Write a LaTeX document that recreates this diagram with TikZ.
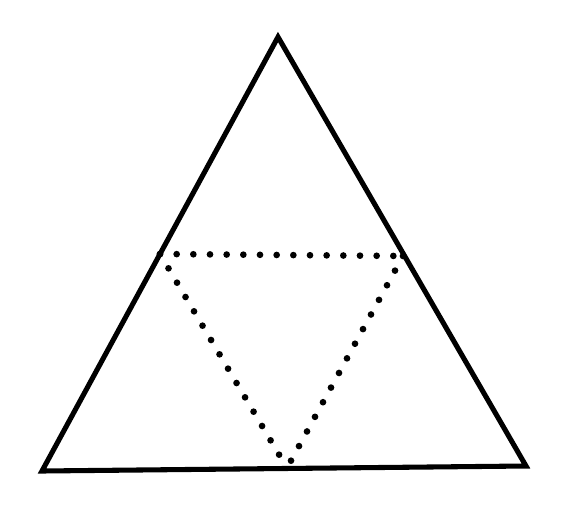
\documentclass[tikz,border=0pt]{standalone}
\begin{document}
\begin{tikzpicture}[x=0.75pt,y=-0.75pt,
  outer/.style={line width=3.8pt,line join=miter,black},
  dotline/.style={line width=5pt,line cap=round,dash pattern=on 0pt off 12.5pt,black}]
\useasboundingbox (0,0) rectangle (573,528);
\coordinate (A) at (278,37);
\coordinate (B) at (42,471);
\coordinate (C) at (526,466);
\coordinate (L) at (160,254);
\coordinate (R) at (403,256);
\coordinate (M) at (287,468);
\draw[outer] (A) -- (B) -- (C) -- cycle;
\draw[dotline] (L) -- (R);
\draw[dotline] (L) -- (M);
\draw[dotline] (R) -- (M);
\end{tikzpicture}
\end{document}
